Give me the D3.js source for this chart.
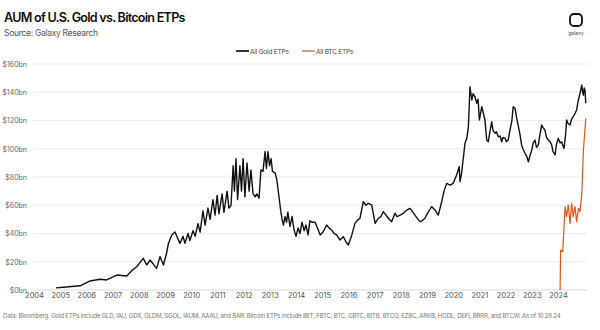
<!DOCTYPE html>
<html>
<head>
<meta charset="utf-8">
<script src="https://cdn.jsdelivr.net/npm/d3@7"></script>
<style>
  body { margin: 0; background: #fff; }
  svg { display: block; font-family: Inter, "Noto Sans", sans-serif; }
</style>
</head>
<body>
<svg id="chart" width="600" height="330"></svg>
<script>
// AUM in $bn, x = decimal year
var goldYears = [2004.84,2005.12,2005.76,2005.95,2006.14,2006.52,2006.77,2007.16,2007.54,2007.73,2007.92,2008.17,2008.30,2008.43,2008.68,2008.81,2008.94,2009.06,2009.13,2009.26,2009.38,2009.57,2009.69,2009.76,2009.88,2009.95,2010.07,2010.15,2010.26,2010.34,2010.45,2010.53,2010.64,2010.72,2010.83,2010.91,2010.99,2011.06,2011.18,2011.25,2011.37,2011.44,2011.52,2011.60,2011.65,2011.71,2011.77,2011.86,2011.92,2011.98,2012.05,2012.13,2012.21,2012.28,2012.36,2012.44,2012.51,2012.59,2012.66,2012.74,2012.82,2012.87,2012.93,2012.99,2013.05,2013.10,2013.20,2013.27,2013.35,2013.41,2013.47,2013.52,2013.58,2013.64,2013.69,2013.77,2013.85,2013.92,2014.00,2014.08,2014.15,2014.23,2014.31,2014.38,2014.46,2014.53,2014.61,2014.73,2014.84,2014.92,2015.04,2015.17,2015.26,2015.36,2015.45,2015.55,2015.68,2015.81,2015.91,2016.00,2016.13,2016.25,2016.33,2016.44,2016.57,2016.67,2016.76,2016.89,2017.02,2017.14,2017.24,2017.33,2017.44,2017.52,2017.65,2017.78,2017.86,2017.97,2018.08,2018.23,2018.35,2018.43,2018.54,2018.66,2018.73,2018.81,2018.92,2019.04,2019.18,2019.31,2019.43,2019.56,2019.65,2019.75,2019.88,2020.00,2020.13,2020.23,2020.26,2020.32,2020.45,2020.52,2020.58,2020.64,2020.71,2020.76,2020.83,2020.90,2020.95,2021.00,2021.09,2021.14,2021.21,2021.28,2021.34,2021.40,2021.47,2021.52,2021.60,2021.65,2021.72,2021.79,2021.85,2021.90,2021.98,2022.03,2022.10,2022.17,2022.24,2022.29,2022.36,2022.42,2022.49,2022.55,2022.61,2022.66,2022.74,2022.80,2022.87,2022.93,2023.00,2023.05,2023.12,2023.18,2023.25,2023.31,2023.38,2023.43,2023.50,2023.56,2023.63,2023.70,2023.76,2023.81,2023.89,2023.94,2024.01,2024.08,2024.14,2024.19,2024.23,2024.29,2024.33,2024.38,2024.46,2024.52,2024.58,2024.65,2024.71,2024.76,2024.84,2024.91,2024.94,2024.97,2025.00,2025.03,2025.06];
var goldAum = [1.5,1.9,3.0,4.7,6.4,7.6,7.1,10.6,9.9,13.7,16.5,22.4,17.7,21.2,15.3,23.6,17.7,26,33,39,41,33,38,33,40,35,42,38,47,41,56,46,58,50,64,53,67,54,68,55,70,58,60,88,70,93,64,88,70,93,66,90,70,85,68,66,68,65,85,84,98,86,98,88,93,84,83,78,66,57,50,46,52,48,55,45,52,43,38,44,40,48,42,46,39,49,48,48,43,39,41.3,46,44,42.5,40,39,35.4,37.7,34,31.9,39,47.2,49,50.8,62.5,60,61.4,60.2,47.2,50.8,52,55.4,53,50.8,48.4,54.3,52,53,54,56.6,57.8,56,53,50,48.4,49,50.8,55,59,56.6,53,62.5,70,75.5,74.3,75.5,81.4,87.3,76.7,82.6,103.9,107.4,115.6,143.9,134.5,139,136.8,132.2,135,120.4,129.8,126,120.4,106.2,105,112,119.1,113,110.9,112,108.5,109,105,108,107.4,105,106.2,113.3,120,129.8,128.6,122,115.6,110,102.7,100,96.8,95,90.8,95,99.1,104,106.2,101,102.7,110,116.8,115,113.3,108,106.2,105,102.7,98,95.6,103,107.4,104,105,102,100.3,110,120.4,118,116.8,121,122.7,125,127.4,133,139.3,145.1,140,138,143,141.6,132.2];

var btcYears = [2024.08,2024.10,2024.18,2024.27,2024.33,2024.39,2024.46,2024.52,2024.58,2024.65,2024.71,2024.78,2024.84,2024.91,2024.97,2025.06];
var btcAum = [0,28.3,27.1,59,51.9,60.2,47.2,61.4,51.9,59,48.4,57.8,55.4,68.5,99.1,121.5];

var yearTicks = d3.range(2004, 2025);
var yTicks = [0,20,40,60,80,100,120,140,160];
var seriesNames = ["All Gold ETPs", "All BTC ETPs"];

var svg = d3.select("#chart");

var x = d3.scaleLinear().domain([2004, 2024]).range([34, 558]);
var y = d3.scaleLinear().domain([0, 160]).range([290, 64]);

// title block
svg.append("text").attr("x", 4).attr("y", 22)
  .attr("font-size", 12.6).attr("font-weight", 600).attr("letter-spacing", -0.75)
  .attr("fill", "#111").text("AUM of U.S. Gold vs. Bitcoin ETPs");
svg.append("text").attr("x", 4).attr("y", 36)
  .attr("font-size", 8.5).attr("letter-spacing", -0.3)
  .attr("fill", "#555").text("Source: Galaxy Research");

// logo
svg.append("rect").attr("x", 570).attr("y", 14).attr("width", 12).attr("height", 12)
  .attr("rx", 4).attr("fill", "none").attr("stroke", "#111").attr("stroke-width", 1.8);
svg.append("text").attr("x", 576).attr("y", 35).attr("text-anchor", "middle")
  .attr("font-size", 5).attr("fill", "#444").text("galaxy");

// grid
svg.append("g").selectAll("line").data(yTicks).enter().append("line")
  .attr("x1", 33).attr("x2", 587)
  .attr("y1", function(d) { return y(d); }).attr("y2", function(d) { return y(d); })
  .attr("stroke", function(d) { return d === 0 ? "#cfcfcf" : "#e6e6e6"; })
  .attr("stroke-width", 0.8);

var yAxis = d3.axisLeft(y).tickValues(yTicks).tickSize(0).tickPadding(0)
  .tickFormat(function(d) { return "$" + d + "bn"; });
svg.append("g").attr("transform", "translate(27,0)").call(yAxis)
  .call(function(g) { g.select(".domain").remove(); })
  .selectAll("text").attr("font-size", 7).attr("fill", "#666")
  .attr("font-family", "Inter, sans-serif");

var xAxis = d3.axisBottom(x).tickValues(yearTicks).tickSize(0).tickPadding(0)
  .tickFormat(d3.format("d"));
svg.append("g").attr("transform", "translate(0,293)").call(xAxis)
  .call(function(g) { g.select(".domain").remove(); })
  .selectAll("text").attr("font-size", 7.5).attr("fill", "#555")
  .attr("font-family", "Inter, sans-serif");

// lines
var line = d3.line()
  .x(function(d) { return x(d[0]); })
  .y(function(d) { return y(d[1]); });

svg.append("path").datum(d3.zip(goldYears, goldAum))
  .attr("d", line).attr("fill", "none").attr("stroke", "#111")
  .attr("stroke-width", 1.4).attr("stroke-linejoin", "round");

svg.append("path").datum(d3.zip(btcYears, btcAum))
  .attr("d", line).attr("fill", "none").attr("stroke", "#e0561a")
  .attr("stroke-width", 1.2).attr("stroke-linejoin", "round");

// legend
var legendX = [236, 302];
var legendColor = ["#333", "#d8a07a"];
var lg = svg.append("g").selectAll("g").data(seriesNames).enter().append("g")
  .attr("transform", function(d, i) { return "translate(" + legendX[i] + ",51)"; });
lg.append("line").attr("x1", 0).attr("x2", 13).attr("y1", 0).attr("y2", 0)
  .attr("stroke", function(d, i) { return legendColor[i]; }).attr("stroke-width", 2);
lg.append("text").attr("x", 14).attr("y", 2.5).attr("font-size", 6.5)
  .attr("letter-spacing", -0.2).attr("fill", "#444").text(function(d) { return d; });

// footer
svg.append("text").attr("x", 3).attr("y", 318).attr("font-size", 6.1)
  .attr("letter-spacing", -0.2).attr("fill", "#777")
  .text("Data: Bloomberg. Gold ETPs include GLD, IAU, GDX, GLDM, SGOL, IAUM, AAAU, and BAR. Bitcoin ETPs include IBIT, FBTC, BTC, GBTC, BITB, BTCO, EZBC, ARKB, HODL, DEFI, BRRR, and BTCW. As of 10.28.24");
</script>
</body>
</html>
